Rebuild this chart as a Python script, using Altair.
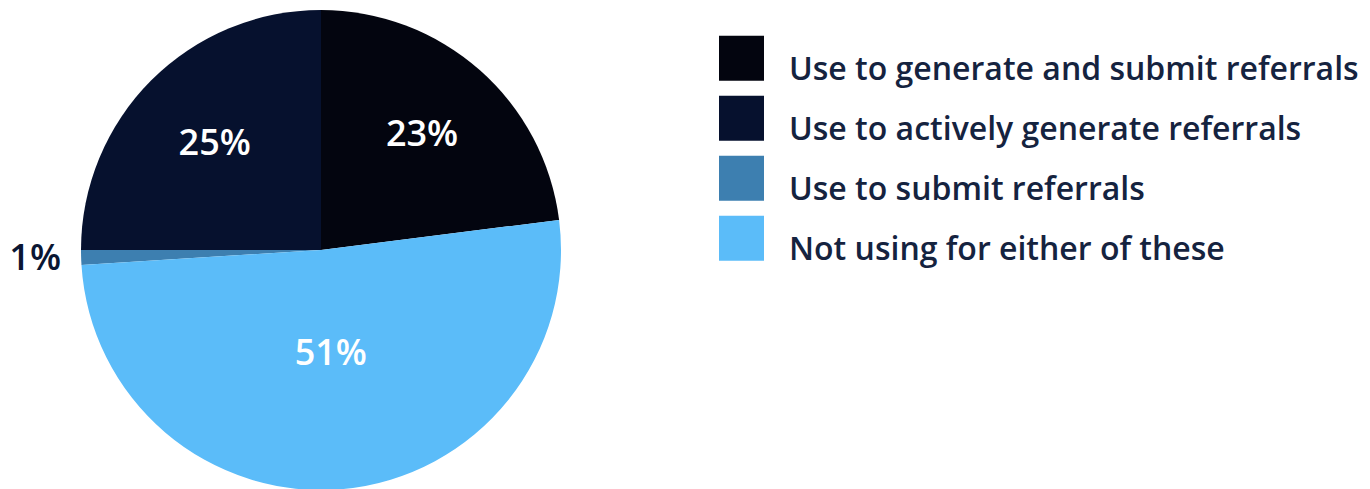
import altair as alt
import pandas as pd

categories = [
    "Use to generate and submit referrals",
    "Use to actively generate referrals",
    "Use to submit referrals",
    "Not using for either of these",
]
values = [23, 25, 1, 51]
pie_order = [0, 3, 2, 1]  # clockwise position from 12 o'clock
labels = ["23%", "25%", "1%", "51%"]
colors = ["#03050f", "#06112e", "#3d7fb0", "#5bbcf9"]

df = pd.DataFrame({
    "category": categories,
    "value": values,
    "ord": pie_order,
    "label": labels,
})

CX, CY, R = 321, 250, 240

arcs = alt.Chart(df).mark_arc(radius=R, stroke=None).encode(
    theta=alt.Theta("value:Q", stack=True),
    order=alt.Order("ord:Q", sort="ascending"),
    color=alt.Color(
        "category:N",
        scale=alt.Scale(domain=categories, range=colors),
        legend=alt.Legend(
            title=None,
            orient="none",
            legendX=719,
            legendY=47,
            symbolType="M-1,-1.5H1V0.5H-1Z",
            symbolSize=2025,
            symbolStrokeWidth=0,
            symbolOpacity=1,
            labelFont="Open Sans",
            labelFontSize=32,
            labelFontWeight=600,
            labelColor="#15233f",
            labelOffset=25,
            rowPadding=9,
            labelLimit=700,
            padding=0,
        ),
    ),
    x=alt.value(CX),
    y=alt.value(CY),
)

text = alt.Chart(df).transform_window(
    cum="sum(value)", sort=[alt.SortField("ord", order="ascending")],
    frame=[None, 0],
).transform_joinaggregate(
    total="sum(value)"
).transform_calculate(
    h="PI * datum.value / datum.total",
    mid="2 * PI * (datum.cum - datum.value / 2) / datum.total",
).transform_calculate(
    lr="datum.value < 5 ? 286 : 167 * sin(datum.h) / datum.h",
).mark_text(
    font="Open Sans", fontSize=36, fontWeight=600
).encode(
    theta=alt.Theta("mid:Q", scale=None, stack=None),
    radius=alt.Radius("lr:Q", scale=None),
    text="label:N",
    color=alt.condition("datum.value < 5", alt.value("#0a1633"), alt.value("white")),
    x=alt.value(CX),
    y=alt.value(CY),
)

chart = alt.layer(arcs, text).properties(
    width=700, height=489, padding=0
).configure_view(stroke=None)

chart.save("out.html", embed_options={"renderer": "svg", "actions": False})
